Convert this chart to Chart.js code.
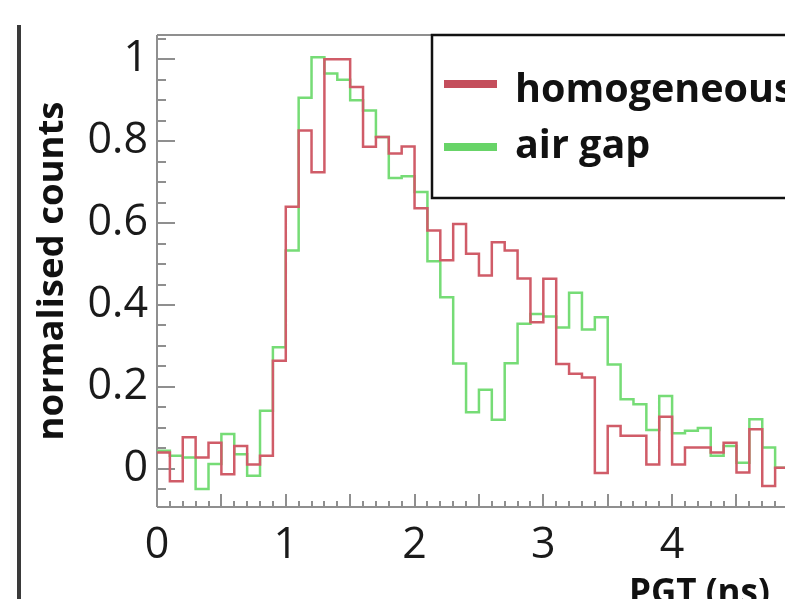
<!DOCTYPE html>
<html>
<head>
<meta charset="utf-8">
<script src="https://cdn.jsdelivr.net/npm/chart.js"></script>
<style>
html,body{margin:0;padding:0;background:#fff;overflow:hidden;}
#wrap{position:relative;width:785px;height:599px;overflow:hidden;background:#fff;}
#c{position:absolute;left:0;top:0;}
#bar{position:absolute;left:17px;top:25px;width:4px;height:580px;background:#3a3a3a;}
</style>
</head>
<body>
<div id="wrap"><div id="bar"></div><canvas id="c" width="840" height="640"></canvas></div>
<script>
// ---- data ----
const binEdges = [0.0,0.1,0.2,0.3,0.4,0.5,0.6,0.7,0.8,0.9,
                  1.0,1.1,1.2,1.3,1.4,1.5,1.6,1.7,1.8,1.9,
                  2.0,2.1,2.2,2.3,2.4,2.5,2.6,2.7,2.8,2.9,
                  3.0,3.1,3.2,3.3,3.4,3.5,3.6,3.7,3.8,3.9,
                  4.0,4.1,4.2,4.3,4.4,4.5,4.6,4.7,4.8,4.9];
const homogeneous = [0.04,-0.03,0.077,0.028,0.064,-0.013,0.056,0.011,0.032,0.264,
                     0.64,0.826,0.724,1.0,1.0,0.932,0.786,0.81,0.77,0.787,
                     0.636,0.582,0.509,0.598,0.525,0.472,0.553,0.533,0.465,0.358,
                     0.464,0.256,0.232,0.223,-0.01,0.105,0.081,0.081,0.011,0.127,
                     0.011,0.052,0.052,0.04,0.064,-0.009,0.097,-0.042,0.003];
const airGap = [0.044,0.032,0.028,-0.049,0.012,0.085,0.036,-0.017,0.142,0.297,
                0.533,0.906,1.005,0.965,0.95,0.9,0.875,0.81,0.71,0.714,
                0.676,0.507,0.419,0.257,0.138,0.193,0.12,0.258,0.354,0.378,
                0.372,0.345,0.43,0.34,0.37,0.255,0.17,0.158,0.095,0.178,
                0.087,0.093,0.1,0.032,0.056,0.015,0.121,0.052,0.003];
const seriesLabels = ['homogeneous','air gap'];
const xTickValues = [0,1,2,3,4];
const yTickValues = [0,0.2,0.4,0.6,0.8,1];

// ---- styles ----
const lineColors = ['rgb(208,92,104)','rgb(118,220,118)'];
const legendColors = ['rgb(196,78,92)','rgb(104,212,104)'];
const LEGEND = {left:432, top:35, width:420, height:163, sampleX0:444, sampleX1:497,
                sampleY:[84,147], textX:515, textY:[102,158]};

function stepPoints(vals){
  const pts = vals.map((v,i)=>({x:binEdges[i], y:v}));
  pts.push({x:binEdges[binEdges.length-1], y:vals[vals.length-1]});
  return pts;
}

const framePlugin = {
  id:'frame',
  beforeDatasetsDraw(chart){
    const {ctx, chartArea:a, scales:{x,y}} = chart;
    ctx.save();
    ctx.strokeStyle='#8f8f8f'; ctx.lineWidth=2;
    ctx.beginPath();
    ctx.moveTo(a.left,a.top); ctx.lineTo(a.left,a.bottom);
    ctx.moveTo(a.left,a.top); ctx.lineTo(a.right,a.top);
    ctx.moveTo(a.left,a.bottom); ctx.lineTo(a.right,a.bottom);
    for(let i=-1;i<=21;i++){
      const v=i*0.05; if(v<y.min||v>y.max) continue;
      const p=Math.round(y.getPixelForValue(v));
      const len=(i%4===0)?18:9;
      ctx.moveTo(a.left,p); ctx.lineTo(a.left+len,p);
    }
    for(let i=0;i<=49;i++){
      const p=Math.round(x.getPixelForValue(i*0.1));
      const len=(i%5===0)?13:6;
      ctx.moveTo(p,a.bottom); ctx.lineTo(p,a.bottom-len);
    }
    ctx.stroke();
    ctx.restore();
  }
};

const legendPlugin = {
  id:'boxLegend',
  afterDraw(chart){
    const ctx=chart.ctx, L=LEGEND;
    ctx.save();
    ctx.fillStyle='#fff'; ctx.fillRect(L.left,L.top,L.width,L.height);
    ctx.strokeStyle='#111'; ctx.lineWidth=2.5; ctx.strokeRect(L.left,L.top,L.width,L.height);
    chart.data.datasets.forEach((ds,i)=>{
      ctx.strokeStyle=legendColors[i]; ctx.lineWidth=8; ctx.lineCap='butt';
      ctx.beginPath(); ctx.moveTo(L.sampleX0,L.sampleY[i]); ctx.lineTo(L.sampleX1,L.sampleY[i]); ctx.stroke();
      ctx.fillStyle='#111'; ctx.font='bold 39.5px "Open Sans"'; ctx.textBaseline='alphabetic'; ctx.textAlign='left';
      ctx.fillText(ds.label,L.textX,L.textY[i]);
    });
    ctx.restore();
  }
};

new Chart(document.getElementById('c'),{
  type:'line',
  data:{datasets:[
    {label:seriesLabels[0], data:stepPoints(homogeneous), borderColor:lineColors[0], borderWidth:2.5, stepped:'before', pointRadius:0, fill:false},
    {label:seriesLabels[1], data:stepPoints(airGap), borderColor:lineColors[1], borderWidth:2.5, stepped:'before', pointRadius:0, fill:false}
  ]},
  options:{
    responsive:false, animation:false, devicePixelRatio:1,
    layout:{padding:{left:0,top:35,right:52,bottom:0}},
    plugins:{legend:{display:false}, tooltip:{enabled:false}},
    scales:{
      x:{type:'linear', min:0, max:4.9,
        afterBuildTicks:s=>{s.ticks=xTickValues.map(v=>({value:v}));},
        afterFit:s=>{s.height=133;},
        grid:{display:false, drawTicks:false}, border:{display:false},
        ticks:{font:{family:'Open Sans',size:43}, color:'#1a1a1a', padding:13, maxRotation:0, autoSkip:false, callback:v=>String(v)},
        title:{display:true, text:'PGT (ns)\u00a0\u00a0', align:'end', color:'#111',
               font:{family:'Open Sans',size:35,weight:'bold'}, padding:{top:0,bottom:25}}
      },
      y:{type:'linear', min:-0.093, max:1.059,
        afterBuildTicks:s=>{s.ticks=yTickValues.map(v=>({value:v}));},
        afterFit:s=>{s.width=157;},
        grid:{display:false, drawTicks:false}, border:{display:false},
        ticks:{font:{family:'Open Sans',size:43}, color:'#1a1a1a', padding:9, autoSkip:false, callback:v=>String(v)},
        title:{display:true, text:'normalised counts', color:'#111',
               font:{family:'Open Sans',size:36.5,weight:'bold'}, padding:{top:31,bottom:0}}
      }
    }
  },
  plugins:[framePlugin, legendPlugin]
});
</script>
</body>
</html>
